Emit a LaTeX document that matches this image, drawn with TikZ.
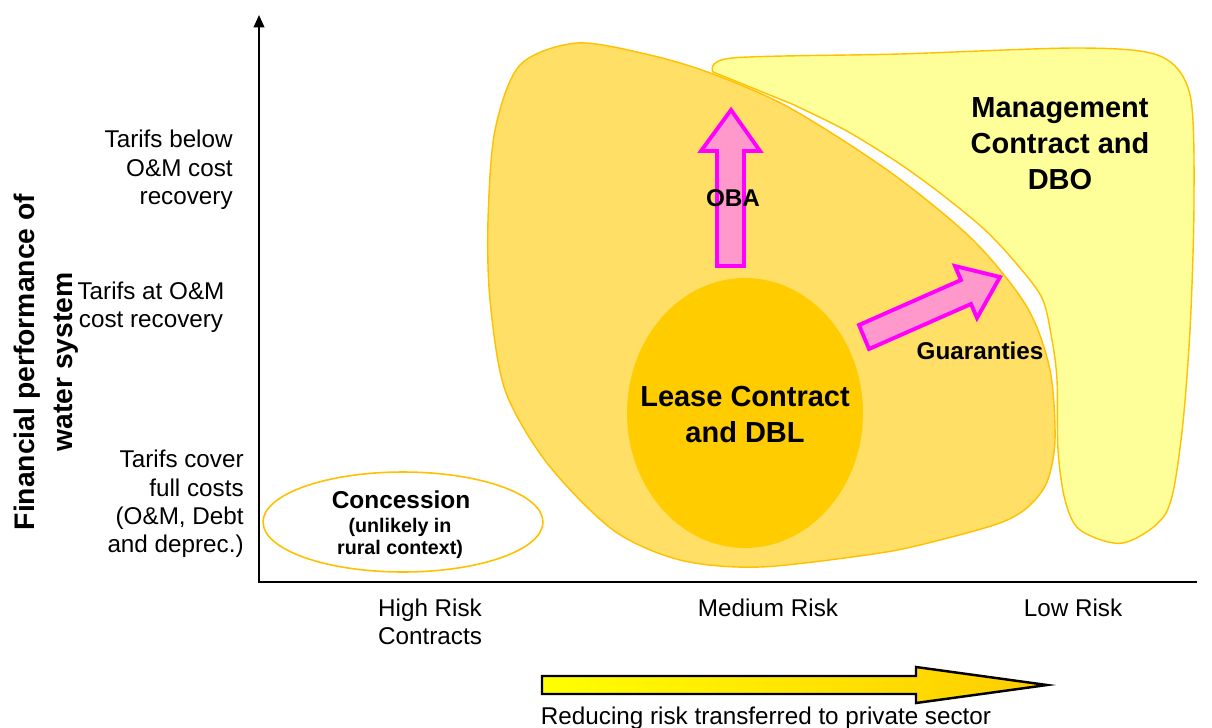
\documentclass[tikz,border=0pt]{standalone}
\usepackage{fontspec}
\setmainfont{Liberation Sans}
\usetikzlibrary{shapes.geometric,arrows.meta}
\definecolor{blobfill}{HTML}{FFDF66}
\definecolor{blobline}{HTML}{FFC000}
\definecolor{mgmtfill}{HTML}{FFFF99}
\definecolor{leasefill}{HTML}{FFCC00}
\definecolor{pinkfill}{HTML}{FF99CC}
\definecolor{pinkline}{HTML}{FF00FF}
\definecolor{goldend}{HTML}{FFCC00}
\definecolor{yellowstart}{HTML}{FFFF00}
\newcommand\myfs[2]{\fontsize{#1}{#2}\selectfont}
\begin{document}
\begin{tikzpicture}[x=0.02cm,y=-0.02cm,
  regtext/.style={font=\myfs{13.8}{16.2}, inner sep=0pt},
  boldbig/.style={font=\bfseries\myfs{16.5}{20.5}, align=center, inner sep=0pt},
  boldmid/.style={font=\bfseries\myfs{13.8}{15}, inner sep=0pt},
  pinkarrow/.style={draw=pinkline, fill=pinkfill, line width=2.2pt, line join=miter},
  zoneline/.style={draw=blobline, line width=0.8pt},
  axisline/.style={draw=black, line width=1.1pt}]
\useasboundingbox (0,0) rectangle (1212,727);

% Management contract zone
\path[zoneline, fill=mgmtfill] (713,72) -- plot[smooth, tension=0.5] coordinates {
  (713,72) (732,58) (900,54) (1080,48) (1160,56) (1190,95) (1194,200)
  (1190,330) (1181,440) (1166,513) (1123,543) (1080,530) (1065,500)
  (1058,450) (1057,380) (1052,340) (1042,298) (1015,262) (984,229)
  (940,193) (897,162) (845,130) (792,104)} -- cycle;

% Big orange zone
\path[zoneline, fill=blobfill] plot[smooth cycle, tension=0.5] coordinates {
  (577,43) (650,55) (713,74) (790,108) (890,172) (973,240) (1027,307)
  (1050,370) (1055,440) (1047,482) (1028,507) (1000,523) (940,540) (880,553) (760,567)
  (680,560) (613,530) (547,463) (505,390) (490,300) (488,220)
  (495,130) (520,65)};

% Lease ellipse
\node[ellipse, fill=leasefill, draw=none, minimum width=4.72cm, minimum height=5.4cm, inner sep=0pt] (leaseshape) at (745,413) {};
\node[boldbig] (lease) at (745,415) {Lease Contract\\and DBL};

% Management text
\node[boldbig] (mgmt) at (1060,144) {Management\\Contract and\\DBO};

% OBA arrow
\path[pinkarrow] (717,266) -- (717,151) -- (701,151) -- (731,110) -- (760,151) -- (744,151) -- (744,266) -- cycle;
\node[boldmid] (oba) at (733,198) {OBA};

% Guaranties arrow
\path[pinkarrow] (859,325) -- (961,280) -- (955,266) -- (1000,277) -- (977,318) -- (971,304) -- (869,349) -- cycle;
\node[boldmid] (guar) at (980,351) {Guaranties};

% Concession ellipse
\node[ellipse, draw=blobline, fill=white, line width=0.9pt, minimum width=5.6cm, minimum height=2cm, inner sep=0pt] (concshape) at (403,522) {};
\node[font=\bfseries\myfs{13.9}{16}, inner sep=0pt] (conc) at (401,500) {Concession};
\node[font=\bfseries\myfs{11.2}{12.6}, align=center, inner sep=0pt] (concsub) at (400,538) {(unlikely in\\rural context)};

% Axes
\coordinate (ytop) at (259,15);
\coordinate (orig) at (259,582);
\coordinate (xend) at (1197,582);
\draw[axisline, {Triangle[width=6pt,length=7pt]}-] (ytop) -- (orig) -- (xend);

% Y axis title
\node[rotate=90, align=center, font=\bfseries\myfs{16.1}{21.5}, inner sep=0pt] (ytitle) at (46,362) {Financial performance of\\water system};

% Y tick labels
\node[regtext, align=right, anchor=east] (ylabA) at (233,170) {Tarifs below\\O\&M cost\\recovery};
\node[regtext, align=center] (ylabB) at (151,307) {Tarifs at O\&M\\cost recovery};
\node[regtext, align=right, anchor=east] (ylabC) at (244,504) {Tarifs cover\\full costs\\(O\&M, Debt\\and deprec.)};

% X tick labels
\node[regtext, align=center] (xlabA) at (430,622) {High Risk\\Contracts};
\node[regtext] (xlabB) at (768,608) {Medium Risk};
\node[regtext] (xlabC) at (1073,608) {Low Risk};

% Bottom risk arrow
\path[draw=black, line width=1.4pt, line join=miter, left color=yellowstart, right color=goldend]
  (542,676) -- (916,676) -- (916,667) -- (1047,685) -- (916,703) -- (916,694) -- (542,694) -- cycle;
\node[regtext, anchor=base] (risklabel) at (766,724) {Reducing risk transferred to private sector};
\end{tikzpicture}
\end{document}
